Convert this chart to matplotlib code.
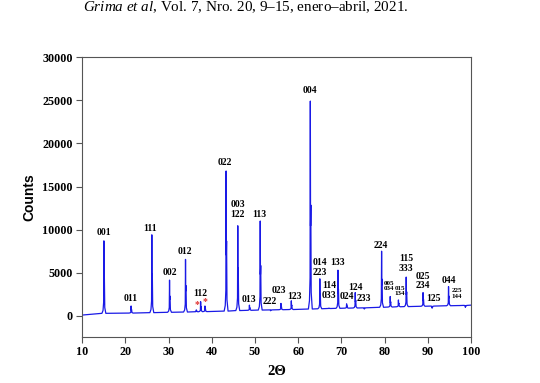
import numpy as np
import matplotlib
matplotlib.use('Agg')
from matplotlib import pyplot as plt

# picos (2theta, cuentas, fondo bajo el pico)
peak_pos = [15.0, 21.3, 26.1, 30.2, 33.9, 36.4, 37.4, 38.4, 43.3, 46.0, 48.7,
            51.2, 53.6, 56.0, 58.4, 62.8, 65.0, 67.1, 69.2, 71.2, 73.2, 75.3,
            79.3, 81.3, 83.2, 85.0, 88.9, 91.0, 94.8, 96.8, 98.7]
peak_counts = [8700, 1150, 9400, 4150, 6550, 700, 1650, 1150, 16800, 10450, 1250,
               11000, 600, 1450, 1750, 24900, 4300, 900, 5300, 1400, 2700, 800,
               7500, 2250, 1850, 4500, 2700, 900, 3400, 1200, 1000]
peak_base = [300, 330, 380, 420, 450, 480, 490, 500, 560, 620, 650,
             680, 700, 720, 740, 800, 830, 860, 880, 900, 920, 940,
             1000, 1030, 1060, 1080, 1120, 1140, 1180, 1200, 1220]
start_pt = (10, 100)
end_pt = (100, 1250)

# etiquetas hkl: texto, 2theta, cuentas, tamano
labels = [
    ('001', 15.0, 9700, 7), ('011', 21.2, 2050, 7), ('111', 25.8, 10150, 7),
    ('002', 30.3, 5000, 7), ('012', 33.8, 7500, 7), ('112', 37.4, 2600, 7),
    ('022', 43.0, 17750, 7), ('003\n122', 46.0, 12300, 7), ('113', 51.0, 11800, 7),
    ('013', 48.7, 1950, 7), ('222', 53.5, 1700, 7), ('023', 55.5, 2900, 7),
    ('123', 59.1, 2300, 7), ('004', 62.8, 26150, 7), ('014\n223', 65.0, 5600, 7),
    ('114\n033', 67.1, 2950, 7), ('133', 69.0, 6150, 7), ('024', 71.2, 2200, 7),
    ('124', 73.3, 3350, 7), ('233', 75.3, 2000, 7), ('224', 79.2, 8200, 7),
    ('005\n034', 81.0, 3450, 5), ('015\n134', 83.5, 2900, 5), ('115\n333', 85.0, 6100, 7),
    ('025\n234', 88.9, 4050, 7), ('125', 91.4, 2050, 7), ('044', 94.8, 4150, 7),
    ('225\n144', 96.7, 2600, 5),
]
stars = [(36.5, 1270), (38.5, 1620)]

# forma de un pico (con hombro K-alfa2)
shape_dx = [-0.45, -0.2, -0.06, 0.0, 0.05, 0.11, 0.2, 0.45]
shape_fr = [0.0, 0.04, 0.15, 1.0, 0.4, 0.5, 0.08, 0.0]

xs = [start_pt[0]]
ys = [start_pt[1]]
for p, h, b in zip(peak_pos, peak_counts, peak_base):
    for dx, fr in zip(shape_dx, shape_fr):
        xs.append(p + dx)
        ys.append(b + fr * (h - b))
xs.append(end_pt[0])
ys.append(end_pt[1])

plt.rcParams['mathtext.fontset'] = 'custom'
plt.rcParams['mathtext.it'] = 'Liberation Serif:italic'
plt.rcParams['mathtext.rm'] = 'Liberation Serif'

fig = plt.figure(figsize=(5.4, 3.83), dpi=100)
ax = fig.add_axes([0.1524, 0.1211, 0.7198, 0.7298])
ax.plot(xs, ys, color='#1a1ae6', lw=0.9)

for t, x, y, s in labels:
    ax.text(x, y, t, ha='center', va='center', fontsize=s, fontweight='bold',
            family='Liberation Serif', linespacing=1.1)
for x, y in stars:
    ax.text(x, y, '*', color='#e03030', ha='center', va='center', fontsize=7,
            fontweight='bold', family='Liberation Serif')

ax.set_xlim(10, 100)
ax.set_ylim(-2400, 30000)
ax.set_xticks(range(10, 101, 10))
ax.set_yticks(range(0, 30001, 5000))
for sp in ax.spines.values():
    sp.set_color('#555555')
    sp.set_linewidth(0.8)
ax.tick_params(direction='out', length=4, width=0.8, color='#555555', pad=3)
for lab in ax.get_xticklabels() + ax.get_yticklabels():
    lab.set_family('Liberation Serif')
    lab.set_fontweight('bold')
    lab.set_fontsize(8.7)
ax.set_xlabel('2Θ', family='Liberation Serif', fontweight='bold', fontsize=10.5, labelpad=5)
ax.set_ylabel('Counts', family='Liberation Sans', fontweight='bold', fontsize=10, labelpad=4)

fig.text(0.455, 0.982, r'$\mathit{Grima\ et\ al}$, Vol. 7, Nro. 20, 9–15, enero–abril, 2021.',
         ha='center', va='center', fontsize=10.9, family='Liberation Serif')

plt.savefig('out.png', dpi=100)
